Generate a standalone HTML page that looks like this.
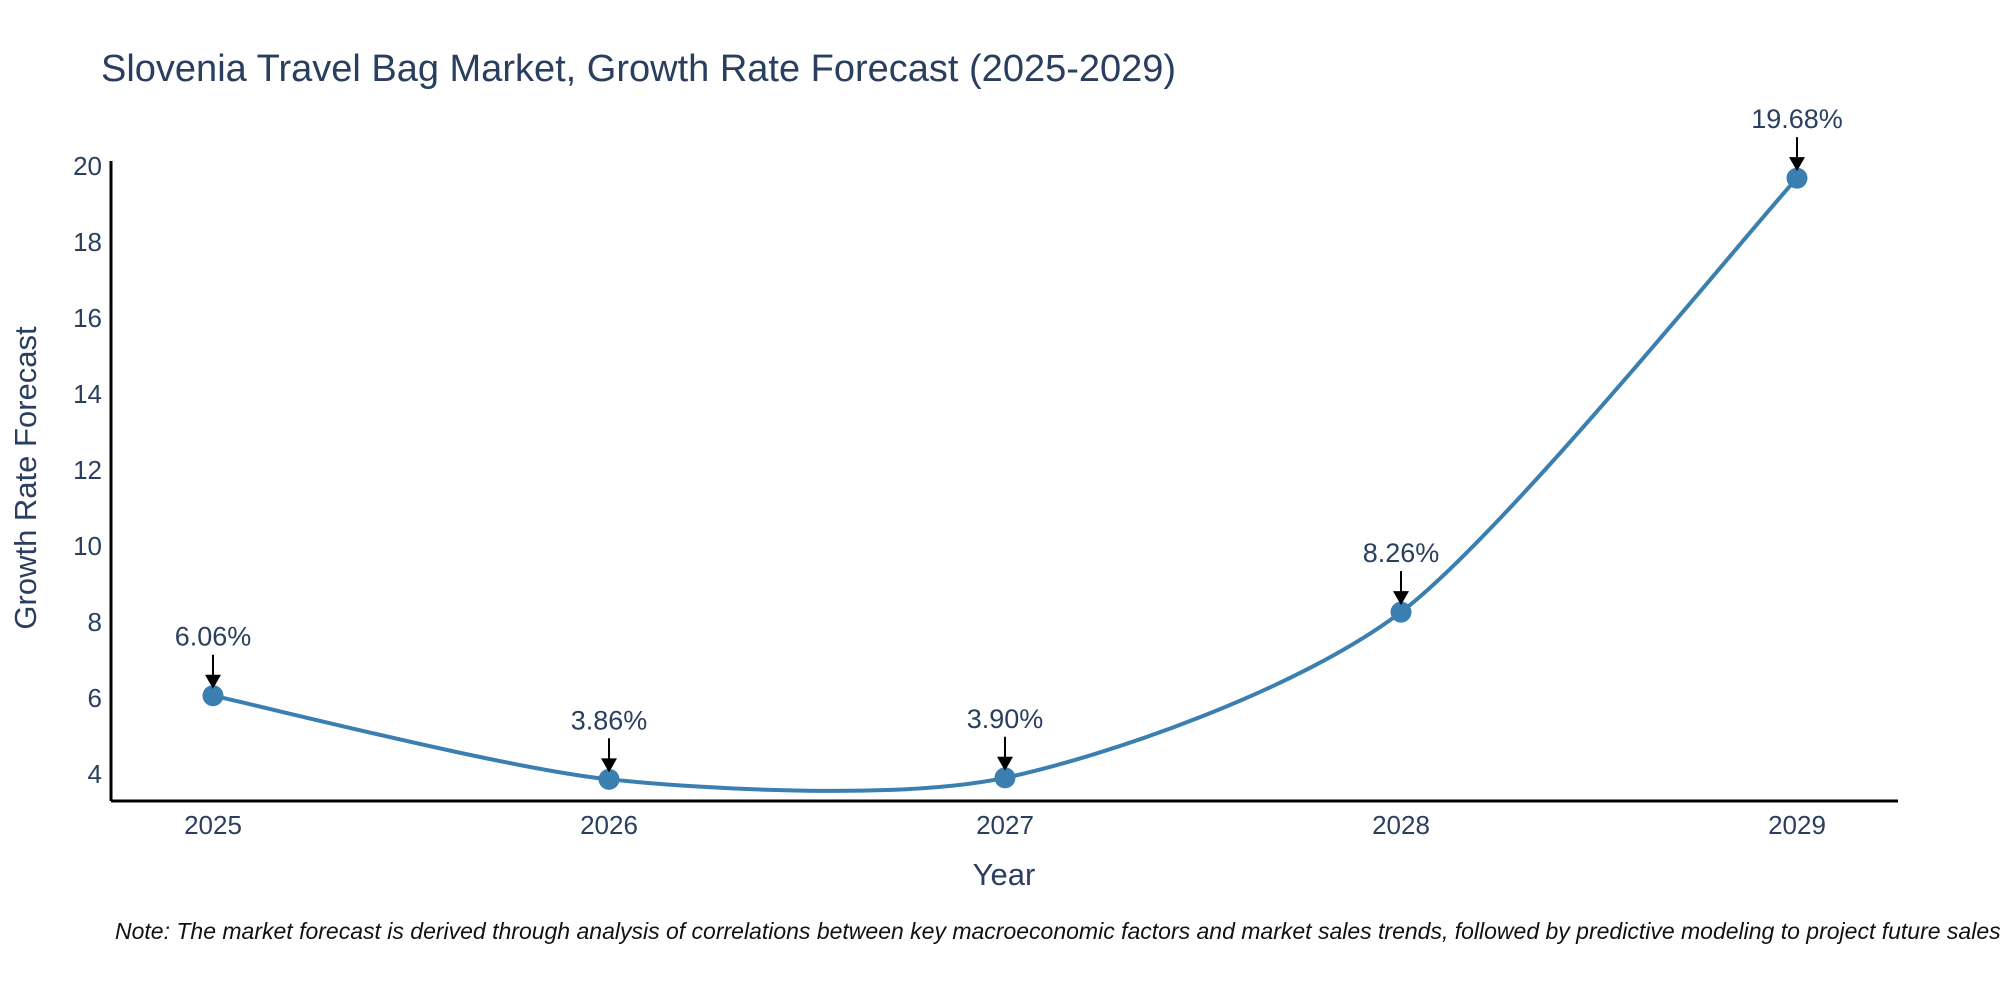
<!DOCTYPE html>
<html><head><meta charset="utf-8"><style>
html,body{margin:0;padding:0;background:#fff;}
svg{display:block;font-family:"Liberation Sans","DejaVu Sans",sans-serif;}
</style></head><body>
<svg id="chart" width="2000" height="1000" viewBox="0 0 2000 1000">
<text x="101" y="81" font-size="38" fill="#2a3f5f">Slovenia Travel Bag Market, Growth Rate Forecast (2025-2029)</text>
<g id="yticks"></g>
<g id="xticks"></g>
<line x1="111" y1="801" x2="1898" y2="801" stroke="#000" stroke-width="3"/>
<line x1="111" y1="161" x2="111" y2="801" stroke="#000" stroke-width="3"/>
<path id="line" fill="none" stroke="#3a7fb0" stroke-width="4"/>
<g id="points"></g>
<g id="annos"></g>
<text x="1004" y="885" font-size="31" fill="#2a3f5f" text-anchor="middle">Year</text>
<text transform="translate(36,478) rotate(-90)" font-size="31" fill="#2a3f5f" text-anchor="middle">Growth Rate Forecast</text>
<text x="115" y="939" font-size="23" font-style="italic" fill="#111">Note: The market forecast is derived through analysis of correlations between key macroeconomic factors and market sales trends, followed by predictive modeling to project future sales.</text>
</svg>
<script>
const years = ["2025","2026","2027","2028","2029"];
const values = [6.06, 3.86, 3.90, 8.26, 19.68];
const labels = ["6.06%","3.86%","3.90%","8.26%","19.68%"];
const yTicks = [4,6,8,10,12,14,16,18,20];

const NS="http://www.w3.org/2000/svg";
function X(i){return 213+i*396;}
function Y(v){return 774-(v-4)*38.0;}
function mk(tag,attrs,parent){const e=document.createElementNS(NS,tag);for(const k in attrs)e.setAttribute(k,attrs[k]);parent.appendChild(e);return e;}

const yg=document.getElementById('yticks');
yTicks.forEach(t=>{
  const e=mk('text',{x:102,y:Y(t)+9,'font-size':26,fill:'#2a3f5f','text-anchor':'end'},yg);
  
  
  e.textContent=t;
});
const xg=document.getElementById('xticks');
years.forEach((y,i)=>{
  const e=mk('text',{x:X(i),y:834,'font-size':26,fill:'#2a3f5f','text-anchor':'middle'},xg);
  
  
  e.textContent=y;
});

const P=values.map((v,i)=>[X(i),Y(v)]);
let d=`M${P[0][0]},${P[0][1]}`;
const s=0.13;
for(let i=0;i<P.length-1;i++){
  const p0=P[Math.max(0,i-1)],p1=P[i],p2=P[i+1],p3=P[Math.min(P.length-1,i+2)];
  const c1=[p1[0]+(p2[0]-p0[0])*s,p1[1]+(p2[1]-p0[1])*s];
  const c2=[p2[0]-(p3[0]-p1[0])*s,p2[1]-(p3[1]-p1[1])*s];
  d+=` C${c1[0]},${c1[1]} ${c2[0]},${c2[1]} ${p2[0]},${p2[1]}`;
}
document.getElementById('line').setAttribute('d',d);

const pg=document.getElementById('points'),ag=document.getElementById('annos');
values.forEach((v,i)=>{
  const cx=X(i),cy=Y(v);
  const c=mk('circle',{cx:cx,cy:cy,r:10.5,fill:'#3a7fb0'},pg);
  
  
  const l=mk('line',{x1:cx,y1:cy-41,x2:cx,y2:cy-18,stroke:'#000','stroke-width':2},ag);
  
  
  const h=mk('polygon',{points:`${cx-8},${cy-21} ${cx+8},${cy-21} ${cx},${cy-7}`,fill:'#000'},ag);
  
  
  const t=mk('text',{x:cx,y:cy-50,'font-size':27,fill:'#2a3f5f','text-anchor':'middle'},ag);
  
  
  t.textContent=labels[i];
});
</script>
</body></html>
